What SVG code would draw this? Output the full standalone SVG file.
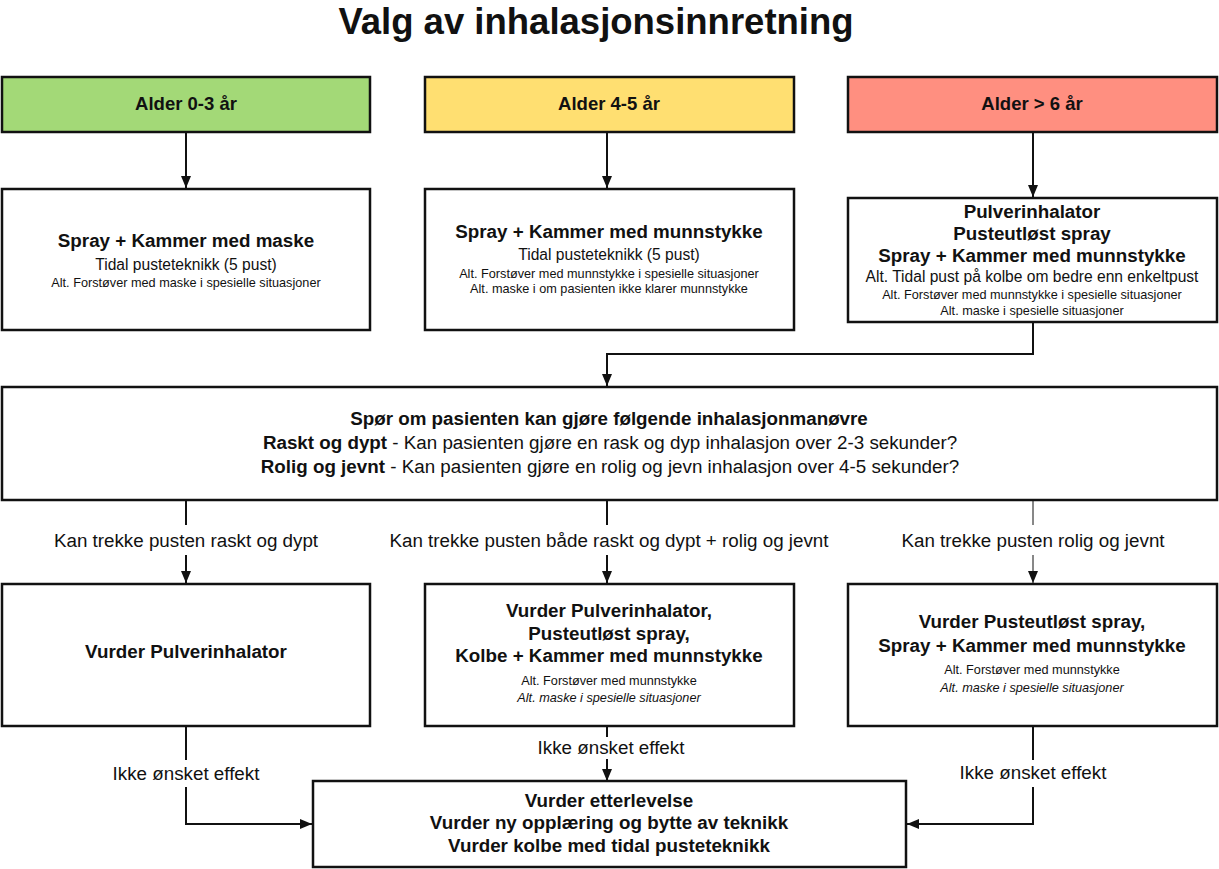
<svg xmlns="http://www.w3.org/2000/svg" width="1219" height="869" viewBox="0 0 1219 869">
<style>
text{font-family:"Liberation Sans",Arial,sans-serif;fill:#111;text-anchor:middle}
.t{font-size:36.5px;font-weight:bold}
.h{font-size:18.5px;font-weight:bold}
.b{font-size:18.8px;font-weight:bold}
.m{font-size:15.6px}
.s{font-size:12.7px}
.i{font-size:12.7px;font-style:italic}
.q{font-size:18.8px}
.box{fill:#fff;stroke:#111;stroke-width:2.5}
.ln{fill:none;stroke:#111;stroke-width:2}
.thin{fill:none;stroke:#111;stroke-width:1}
</style>
<defs>
<marker id="ar" markerUnits="userSpaceOnUse" markerWidth="12" markerHeight="12" viewBox="0 0 12 12" refX="12" refY="6" orient="auto"><path d="M0,1 L12,6 L0,11 Z" fill="#111"/></marker>
</defs>
<rect width="1219" height="869" fill="#fff"/>
<text class="t" x="596" y="34">Valg av inhalasjonsinnretning</text>

<g id="connectors">
<path class="ln" d="M186,133 V188" marker-end="url(#ar)"/>
<path class="ln" d="M607,133 V188" marker-end="url(#ar)"/>
<path class="ln" d="M1033,133 V197" marker-end="url(#ar)"/>
<path class="ln" d="M1033,322 V354 H607 V386" marker-end="url(#ar)"/>
<path class="ln" d="M186,500 V525"/>
<path class="ln" d="M186,555 V583" marker-end="url(#ar)"/>
<text class="q" x="186" y="547">Kan trekke pusten raskt og dypt</text>
<path class="ln" d="M607,500 V525"/>
<path class="ln" d="M607,555 V583" marker-end="url(#ar)"/>
<text class="q" x="609" y="547">Kan trekke pusten både raskt og dypt + rolig og jevnt</text>
<path class="thin" d="M1033,500 V525"/>
<path class="thin" d="M1033,555 V583" marker-end="url(#ar)"/>
<text class="q" x="1033" y="547">Kan trekke pusten rolig og jevnt</text>
<path class="ln" d="M186,726 V760"/>
<path class="ln" d="M186,787 V824 H312" marker-end="url(#ar)"/>
<text class="q" x="186" y="780">Ikke ønsket effekt</text>
<path class="ln" d="M607,726 V737"/>
<path class="ln" d="M607,759 V781" marker-end="url(#ar)"/>
<text class="q" x="611" y="754">Ikke ønsket effekt</text>
<path class="ln" d="M1033,726 V760"/>
<path class="ln" d="M1033,787 V824 H907" marker-end="url(#ar)"/>
<text class="q" x="1033" y="779">Ikke ønsket effekt</text>
</g>

<g id="age03">
<rect x="2" y="77" width="368" height="55" fill="#a3d977" stroke="#111" stroke-width="2.5"/>
<text class="h" x="186" y="110">Alder 0-3 år</text>
</g>
<g id="age45">
<rect x="425" y="77" width="369" height="55" fill="#ffdf71" stroke="#111" stroke-width="2.5"/>
<text class="h" x="609" y="110">Alder 4-5 år</text>
</g>
<g id="age6">
<rect x="848" y="77" width="369" height="55" fill="#ff8f80" stroke="#111" stroke-width="2.5"/>
<text class="h" x="1032" y="110">Alder &gt; 6 år</text>
</g>

<g id="dev03">
<rect class="box" x="2" y="189" width="368" height="141"/>
<text class="b" x="186" y="247">Spray + Kammer med maske</text>
<text class="m" x="186" y="270">Tidal pusteteknikk (5 pust)</text>
<text class="s" x="186" y="287">Alt. Forstøver med maske i spesielle situasjoner</text>
</g>
<g id="dev45">
<rect class="box" x="425" y="189" width="369" height="141"/>
<text class="b" x="609" y="238">Spray + Kammer med munnstykke</text>
<text class="m" x="609" y="260">Tidal pusteteknikk (5 pust)</text>
<text class="s" x="609" y="278">Alt. Forstøver med munnstykke i spesielle situasjoner</text>
<text class="s" x="609" y="293">Alt. maske i om pasienten ikke klarer munnstykke</text>
</g>
<g id="dev6">
<rect class="box" x="848" y="198" width="369" height="124"/>
<text class="b" x="1032" y="218">Pulverinhalator</text>
<text class="b" x="1032" y="240">Pusteutløst spray</text>
<text class="b" x="1032" y="262">Spray + Kammer med munnstykke</text>
<text class="m" x="1032" y="282">Alt. Tidal pust på kolbe om bedre enn enkeltpust</text>
<text class="s" x="1032" y="299">Alt. Forstøver med munnstykke i spesielle situasjoner</text>
<text class="s" x="1032" y="315">Alt. maske i spesielle situasjoner</text>
</g>

<g id="question">
<rect class="box" x="2" y="387" width="1215" height="113"/>
<text class="b" x="609" y="425">Spør om pasienten kan gjøre følgende inhalasjonmanøvre</text>
<text class="q" x="610" y="449"><tspan font-weight="bold">Raskt og dypt</tspan> - Kan pasienten gjøre en rask og dyp inhalasjon over 2-3 sekunder?</text>
<text class="q" x="610" y="473"><tspan font-weight="bold">Rolig og jevnt</tspan> - Kan pasienten gjøre en rolig og jevn inhalasjon over 4-5 sekunder?</text>
</g>

<g id="res1">
<rect class="box" x="2" y="584" width="368" height="142"/>
<text class="b" x="186" y="658">Vurder Pulverinhalator</text>
</g>
<g id="res2">
<rect class="box" x="425" y="584" width="369" height="142"/>
<text class="b" x="609" y="617">Vurder Pulverinhalator,</text>
<text class="b" x="609" y="640">Pusteutløst spray,</text>
<text class="b" x="609" y="662">Kolbe + Kammer med munnstykke</text>
<text class="s" x="609" y="685">Alt. Forstøver med munnstykke</text>
<text class="i" x="609" y="702">Alt. maske i spesielle situasjoner</text>
</g>
<g id="res3">
<rect class="box" x="848" y="584" width="369" height="142"/>
<text class="b" x="1032" y="628">Vurder Pusteutløst spray,</text>
<text class="b" x="1032" y="652">Spray + Kammer med munnstykke</text>
<text class="s" x="1032" y="674">Alt. Forstøver med munnstykke</text>
<text class="i" x="1032" y="692">Alt. maske i spesielle situasjoner</text>
</g>

<g id="final">
<rect class="box" x="313" y="781" width="593" height="86"/>
<text class="b" x="609" y="807">Vurder etterlevelse</text>
<text class="b" x="609" y="829">Vurder ny opplæring og bytte av teknikk</text>
<text class="b" x="609" y="852">Vurder kolbe med tidal pusteteknikk</text>
</g>
</svg>
